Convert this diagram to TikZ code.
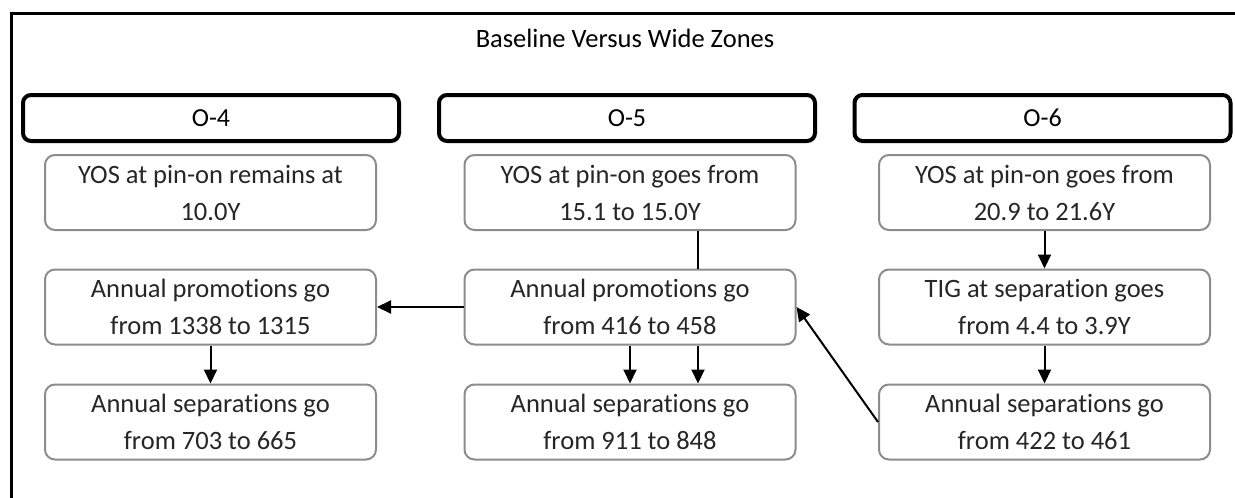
\documentclass[tikz,border=0pt]{standalone}
\usepackage{fontspec}
\setmainfont{Carlito}[Ligatures={NoCommon}]
\usetikzlibrary{arrows.meta}
\begin{document}
\begin{tikzpicture}[x=1pt,y=-1pt,
  hdr/.style={draw=black,line width=4pt,rounded corners=8pt,minimum width=376pt,minimum height=46pt,inner sep=0pt,font=\fontsize{26}{31}\selectfont},
  box/.style={draw=black!45,line width=2pt,rounded corners=10pt,minimum width=331pt,minimum height=75pt,inner sep=0pt,align=center,font=\fontsize{26.5}{37}\selectfont,text=black!85},
  arr/.style={line width=2pt,-{Triangle[length=14pt,width=13pt]}},
  plain/.style={line width=2pt}]
\useasboundingbox (0,0) rectangle (1235,498);
\clip (0,0) rectangle (1235,498);
\coordinate (fa) at (11.5,520);
\coordinate (fb) at (11.5,13.5);
\coordinate (fc) at (1260,13.5);
\draw[line width=3pt] (fa) -- (fb) -- (fc);
\node[font=\fontsize{26.5}{31}\selectfont,anchor=base] (title) at (625,47) {Baseline Versus Wide Zones};
\node[hdr] (h4) at (211,118) {O-4};
\node[hdr] (h5) at (627,118) {O-5};
\node[hdr] (h6) at (1042.5,118) {O-6};
\node[box] (l1) at (210.5,192.5) {YOS at pin-on remains at\\10.0Y};
\node[box] (m1) at (630,192.5) {YOS at pin-on goes from\\15.1 to 15.0Y};
\node[box] (r1) at (1044.5,192.5) {YOS at pin-on goes from\\20.9 to 21.6Y};
\node[box] (l2) at (210.5,307) {Annual promotions go\\from 1338 to 1315};
\node[box] (m2) at (630,307) {Annual promotions go\\from 416 to 458};
\node[box] (r2) at (1044.5,307) {TIG at separation goes\\from 4.4 to 3.9Y};
\node[box] (l3) at (210.5,422) {Annual separations go\\from 703 to 665};
\node[box] (m3) at (630,422) {Annual separations go\\from 911 to 848};
\node[box] (r3) at (1044.5,422) {Annual separations go\\from 422 to 461};
\draw[arr] (m2.west) -- (l2.east);
\draw[arr] (l2.south) -- (l3.north);
\draw[plain] (m1.south -| 698,0) -- (m2.north -| 698,0);
\draw[arr] (m2.south) -- (m3.north);
\draw[arr] (m2.south -| 698,0) -- (m3.north -| 698,0);
\draw[arr] (r1.south) -- (r2.north);
\draw[arr] (r2.south) -- (r3.north);
\draw[arr] (r3.west) -- (m2.east);
\end{tikzpicture}
\end{document}
